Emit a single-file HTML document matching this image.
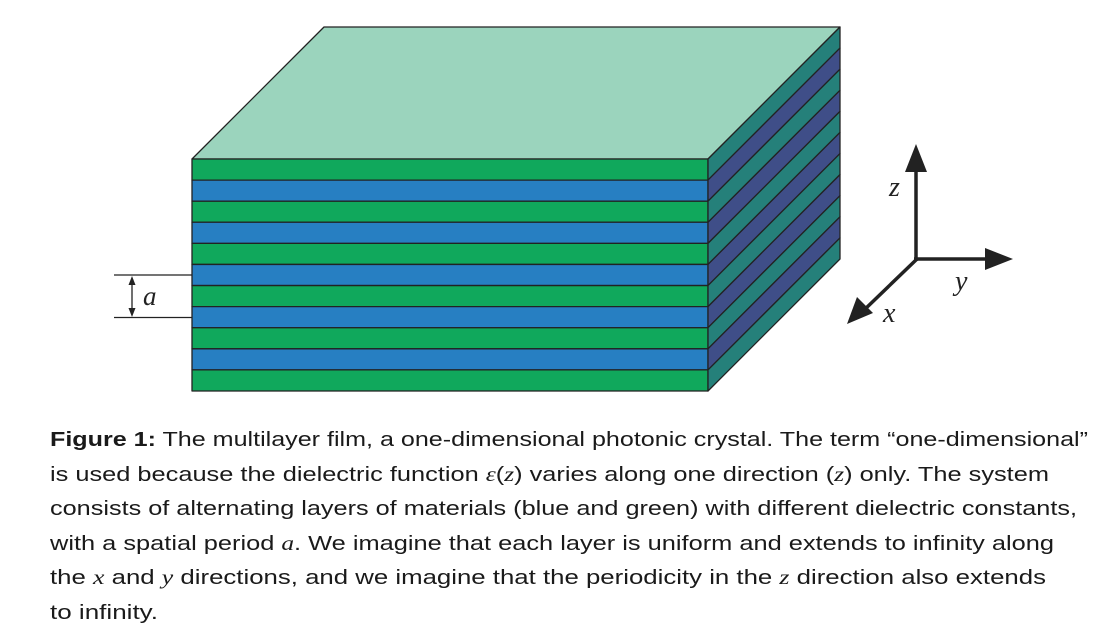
<!DOCTYPE html>
<html><head><meta charset="utf-8"><style>
html,body{margin:0;padding:0;background:#fff;width:1108px;height:637px;overflow:hidden}
svg{display:block}
.cap{font-family:"Liberation Sans",sans-serif;font-size:20.5px;fill:#1a1a1a}
.m{font-family:"Liberation Serif",serif;font-style:italic}
</style></head><body>
<svg id="fig" width="1108" height="637" viewBox="0 0 1108 637">
<g id="block"></g>
<g stroke="#222" stroke-width="1.3">
<line x1="114" y1="275" x2="192" y2="275"/><line x1="114" y1="317.5" x2="192" y2="317.5"/>
<line x1="132" y1="282" x2="132" y2="311"/>
<polygon points="132,276 128.5,285 135.5,285" fill="#222" stroke="none"/>
<polygon points="132,317 128.5,308 135.5,308" fill="#222" stroke="none"/>
</g>
<text x="143" y="305" font-size="27" class="m" fill="#222">a</text>
<g stroke="#222" stroke-width="3.5" fill="#222">
<line x1="916" y1="261" x2="916" y2="168"/>
<line x1="914" y1="259" x2="988" y2="259"/>
<line x1="917" y1="259" x2="862" y2="312"/>
<polygon points="916,144 905,172 927,172" stroke="none"/>
<polygon points="1013,259 985,248 985,270" stroke="none"/>
<polygon points="847,324 857,297 873,313" stroke="none"/>
</g>
<text x="889" y="196" font-size="28" class="m" fill="#222">z</text>
<text x="955" y="290" font-size="28" class="m" fill="#222">y</text>
<text x="883" y="322" font-size="28" class="m" fill="#222">x</text>
<g class="cap">
<text x="50" y="446" textLength="1038" lengthAdjust="spacingAndGlyphs"><tspan font-weight="bold">Figure 1:</tspan>  The multilayer film, a one-dimensional photonic crystal. The term “one-dimensional”</text>
<text x="50" y="481" textLength="999" lengthAdjust="spacingAndGlyphs">is used because the dielectric function <tspan class="m">ε</tspan>(<tspan class="m">z</tspan>) varies along one direction (<tspan class="m">z</tspan>) only. The system</text>
<text x="50" y="515" textLength="1027" lengthAdjust="spacingAndGlyphs">consists of alternating layers of materials (blue and green) with different dielectric constants,</text>
<text x="50" y="550" textLength="1004" lengthAdjust="spacingAndGlyphs">with a spatial period <tspan class="m">a</tspan>. We imagine that each layer is uniform and extends to infinity along</text>
<text x="50" y="584" textLength="996" lengthAdjust="spacingAndGlyphs">the <tspan class="m">x</tspan> and <tspan class="m">y</tspan> directions, and we imagine that the periodicity in the <tspan class="m">z</tspan> direction also extends</text>
<text x="50" y="619" textLength="108" lengthAdjust="spacingAndGlyphs">to infinity.</text>
</g>
</svg>
<script>
const layers = ['green','blue','green','blue','green','blue','green','blue','green','blue','green'];
const frontColors = {green:'#10a85c', blue:'#277fc2'};
const sideColors = {green:'#25807a', blue:'#3f4e88'};
const g = document.getElementById('block');
const NS = 'http://www.w3.org/2000/svg';
const x0 = 192, x1 = 708, yTop = 159, yBot = 391, dx = 132, dy = -132;
const h = (yBot - yTop) / layers.length;
function poly(pts, fill, name) {
  const p = document.createElementNS(NS, 'polygon');
  p.setAttribute('points', pts.map(q => q.join(',')).join(' '));
  p.setAttribute('fill', fill);
  p.setAttribute('stroke', '#222');
  p.setAttribute('stroke-width', '1.3');
  p.setAttribute('stroke-linejoin', 'round');
  
  
  g.appendChild(p);
}
poly([[x0,yTop],[x0+dx,yTop+dy],[x1+dx,yTop+dy],[x1,yTop]], '#9bd4bd', 'top-face');
layers.forEach((c, i) => {
  const a = yTop + i*h, b = a + h;
  poly([[x0,a],[x1,a],[x1,b],[x0,b]], frontColors[c], 'front-layer-' + c);
  poly([[x1,a],[x1+dx,a+dy],[x1+dx,b+dy],[x1,b]], sideColors[c], 'side-layer-' + c);
});
</script>
</body></html>
